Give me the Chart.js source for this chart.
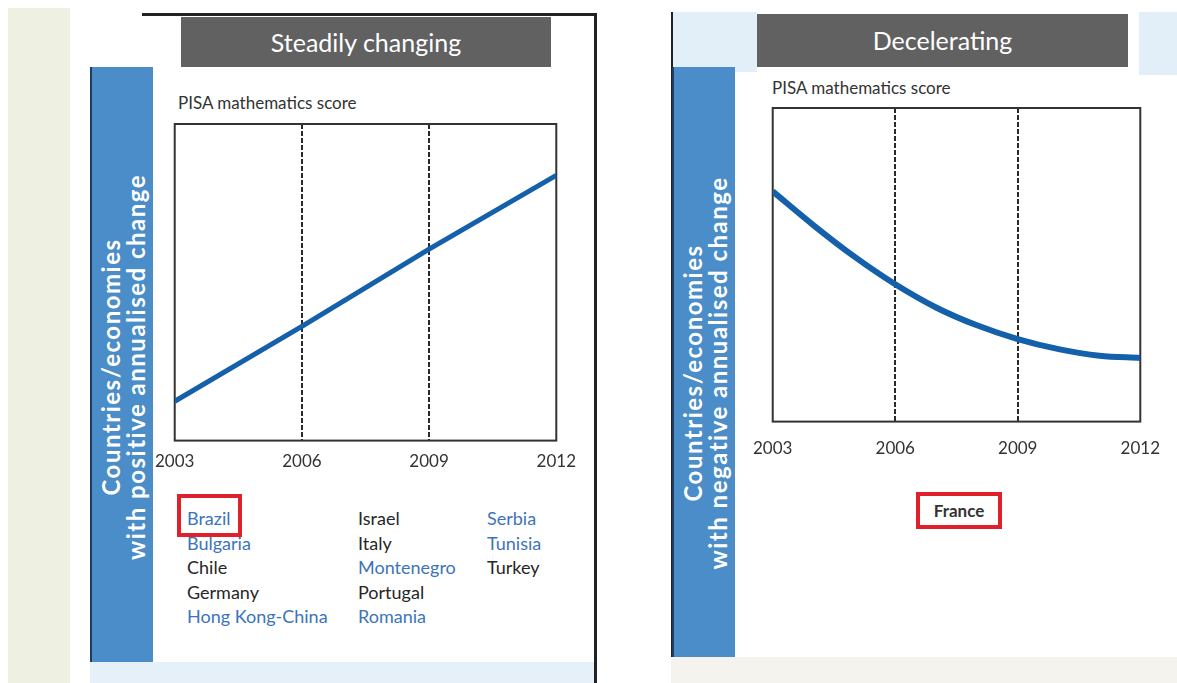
<!DOCTYPE html>
<html>
<head>
<meta charset="utf-8">
<script src="https://cdn.jsdelivr.net/npm/chart.js@4/dist/chart.umd.min.js"></script>
<style>
  html, body { margin: 0; padding: 0; background: #fff; }
  #page { position: relative; width: 1177px; height: 683px; overflow: hidden; background: #fff; font-family: Lato, "Open Sans", sans-serif; }
  .abs { position: absolute; }
  .title { background: #616161; color: #fff; font-size: 25px; text-align: center; line-height: 50px; }
  .side { background: #4a8dc8; border-left: 2px solid #1f3d63; box-sizing: border-box; }
  .side span { position: absolute; left: 50%; transform: translate(-50%, -50%) rotate(-90deg); white-space: nowrap; color: #fff; font-weight: bold; font-size: 24px; letter-spacing: 1.5px; line-height: 25px; text-align: center; }
  .ylab { font-size: 17px; color: #333; }
  .country { font-size: 18px; line-height: 24.5px; }
  .blue { color: #3b74ba; }
  .dark { color: #262626; }
  .redbox { border: 4px solid #e0202a; box-sizing: border-box; }
</style>
</head>
<body>
<div id="page">
  <!-- fond gauche -->
  <div class="abs" style="left:8px;top:8px;width:62px;height:675px;background:#eef1e2;"></div>

  <!-- panneau gauche -->
  <div class="abs" style="left:142px;top:13px;width:455px;height:3px;background:#222;"></div>
  <div class="abs" style="left:594px;top:13px;width:3px;height:670px;background:#222;"></div>
  <div class="abs" style="left:90px;top:662px;width:504px;height:21px;background:#e6f0f8;"></div>
  <div class="abs title" style="left:181px;top:17px;width:370px;height:50px;">Steadily changing</div>
  <div class="abs side" style="left:90px;top:67px;width:63px;height:595px;"><span style="top:300px;">Countries/economies<br>with positive annualised change</span></div>
  <div class="abs ylab" style="left:178px;top:92px;">PISA mathematics score</div>
  <div class="abs" style="left:144px;top:114px;"><canvas id="chartLeft" width="443" height="375"></canvas></div>
  <div class="abs redbox" style="left:177px;top:494px;width:65px;height:43px;"></div>
  <div id="countries"></div>

  <!-- panneau droit -->
  <div class="abs" style="left:671px;top:12px;width:2px;height:648px;background:#222;"></div>
  <div class="abs" style="left:673px;top:12px;width:84px;height:60px;background:#e3eff8;"></div>
  <div class="abs" style="left:1139px;top:12px;width:38px;height:63px;background:#e3eff8;"></div>
  <div class="abs" style="left:671px;top:657px;width:506px;height:26px;background:#f4f3ee;"></div>
  <div class="abs title" style="left:757px;top:14px;width:371px;height:53px;line-height:53px;">Decelerating</div>
  <div class="abs side" style="left:672px;top:67px;width:63px;height:590px;"><span style="top:306px;">Countries/economies<br>with negative annualised change</span></div>
  <div class="abs ylab" style="left:772px;top:77px;">PISA mathematics score</div>
  <div class="abs" style="left:736px;top:98px;"><canvas id="chartRight" width="441" height="384"></canvas></div>
  <div class="abs redbox" style="left:916px;top:492px;width:86px;height:37px;"></div>
  <div class="abs" style="left:916px;top:492px;width:86px;height:37px;line-height:37px;text-align:center;font-size:17px;font-weight:bold;color:#333;">France</div>
</div>

<script>
// Données
const steadyYears = [2003, 2006, 2009, 2012];
const steadyScores = [12.4, 36.1, 60.5, 83.8];
const decelYears = [2003, 2004, 2005, 2006, 2007, 2008, 2009, 2010, 2011, 2012];
const decelScores = [73.4, 62.6, 52.6, 43.8, 36.4, 30.7, 26.3, 23.1, 21.0, 20.3];
const tickYears = [2003, 2006, 2009, 2012];
const dividerYears = [2006, 2009];

// Liste des pays
const countryCol1 = ['Brazil', 'Bulgaria', 'Chile', 'Germany', 'Hong Kong-China'];
const countryCol2 = ['Israel', 'Italy', 'Montenegro', 'Portugal', 'Romania'];
const countryCol3 = ['Serbia', 'Tunisia', 'Turkey'];
const blueCountries = ['Brazil', 'Bulgaria', 'Hong Kong-China', 'Montenegro', 'Romania', 'Serbia', 'Tunisia'];

const countriesEl = document.getElementById('countries');
[[countryCol1, 187], [countryCol2, 358], [countryCol3, 487]].forEach(([list, left]) => {
  const col = document.createElement('div');
  col.className = 'abs country';
  col.style.left = left + 'px';
  col.style.top = '506px';
  list.forEach(name => {
    const d = document.createElement('div');
    d.className = blueCountries.includes(name) ? 'blue' : 'dark';
    d.textContent = name;
    col.appendChild(d);
  });
  countriesEl.appendChild(col);
});

// Cadre + lignes verticales 2006 / 2009
const framePlugin = {
  id: 'frame',
  beforeDatasetsDraw(chart) {
    const { ctx, chartArea, scales } = chart;
    ctx.save();
    ctx.strokeStyle = '#2a2a2a';
    ctx.lineWidth = 2;
    ctx.setLineDash([5, 2]);
    dividerYears.forEach(yr => {
      const x = Math.round(scales.x.getPixelForValue(yr));
      ctx.beginPath();
      ctx.moveTo(x, chartArea.top);
      ctx.lineTo(x, chartArea.bottom);
      ctx.stroke();
    });
    ctx.setLineDash([]);
    ctx.strokeStyle = '#333';
    ctx.strokeRect(chartArea.left, chartArea.top, chartArea.right - chartArea.left, chartArea.bottom - chartArea.top);
    ctx.restore();
  }
};

function makeChart(id, xs, values, tickPad, curved) {
  return new Chart(document.getElementById(id), {
    type: 'line',
    data: {
      datasets: [{
        data: xs.map((yr, i) => ({ x: yr, y: values[i] })),
        borderColor: '#1560aa',
        borderWidth: curved ? 6 : 5,
        pointRadius: 0,
        fill: false,
        cubicInterpolationMode: curved ? 'monotone' : 'default',
        tension: 0
      }]
    },
    options: {
      responsive: false,
      animation: false,
      layout: { padding: { left: 30, right: 30, top: 10, bottom: 6 } },
      plugins: { legend: { display: false }, tooltip: { enabled: false } },
      scales: {
        x: {
          type: 'linear',
          min: 2003,
          max: 2012,
          afterBuildTicks: scale => { scale.ticks = tickYears.map(v => ({ value: v })); },
          grid: { display: false, drawTicks: false },
          border: { display: false },
          ticks: {
            padding: tickPad,
            color: '#333',
            font: { family: 'Lato', size: 17 },
            maxRotation: 0,
            callback: v => String(v)
          }
        },
        y: { display: false, min: 0, max: 100 }
      }
    },
    plugins: [framePlugin]
  });
}

makeChart('chartLeft', steadyYears, steadyScores, 11, false);
makeChart('chartRight', decelYears, decelScores, 17, true);
</script>
</body>
</html>
